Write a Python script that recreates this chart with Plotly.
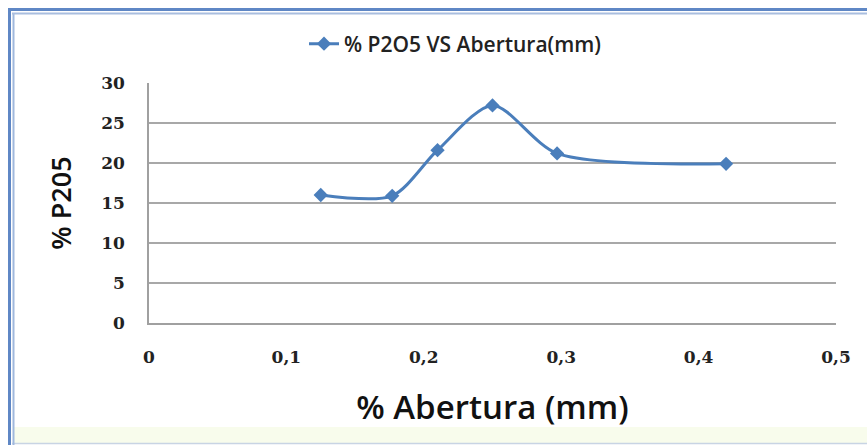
import plotly.graph_objects as go

# Data
abertura = [0.125, 0.177, 0.21, 0.25, 0.297, 0.42]
p2o5 = [16.0, 15.9, 21.6, 27.2, 21.2, 19.9]
series_name = "% P2O5 VS Abertura(mm)"
x_title = "% Abertura (mm)"
y_title = "% P205"

W, H = 867, 445
L, R, T, B = 149, 31, 83, 122
pw = W - L - R
ph = H - T - B

def px(xp):
    return (xp - L) / pw

def py(yp):
    return (H - B - yp) / ph

blue = "#4a7ebb"

fig = go.Figure()
fig.add_trace(go.Scatter(
    x=abertura, y=p2o5, mode="lines+markers", name=series_name,
    line=dict(color=blue, width=3, shape="spline", smoothing=0.8),
    marker=dict(symbol="diamond", size=11, color=blue),
))

shapes = [
    dict(type="rect", xref="paper", yref="paper", x0=px(14), x1=px(W + 5), y0=py(443), y1=py(427),
         fillcolor="#f8fcec", line=dict(width=0), layer="below"),
    dict(type="line", xref="paper", yref="paper", x0=px(12), x1=px(W + 5), y0=py(443.5), y1=py(443.5),
         line=dict(color="#c8d4e4", width=1.5)),
    dict(type="line", xref="paper", yref="paper", x0=px(9.5), x1=px(9.5), y0=py(9), y1=py(H + 5),
         line=dict(color="#5f87c5", width=3)),
    dict(type="line", xref="paper", yref="paper", x0=px(13.5), x1=px(13.5), y0=py(13), y1=py(H + 5),
         line=dict(color="#9fb8dd", width=2)),
    dict(type="line", xref="paper", yref="paper", x0=px(8), x1=px(W + 5), y0=py(9.5), y1=py(9.5),
         line=dict(color="#5f87c5", width=3)),
    dict(type="line", xref="paper", yref="paper", x0=px(12), x1=px(W + 5), y0=py(13.5), y1=py(13.5),
         line=dict(color="#a9bedf", width=2)),
]

title_font = "Open Sans, Noto Sans, sans-serif"

fig.update_layout(
    width=W, height=H,
    margin=dict(l=L, r=R, t=T, b=B, autoexpand=False),
    paper_bgcolor="white", plot_bgcolor="white",
    separators=",.",
    showlegend=True,
    legend=dict(x=304 / W, y=1 - 44 / H, xref="container", yref="container",
                xanchor="left", yanchor="middle", orientation="h",
                font=dict(family=title_font, size=21, color="#222", weight=600),
                bgcolor="rgba(0,0,0,0)"),
    xaxis=dict(range=[0, 0.5], dtick=0.1, tick0=0, showgrid=False, zeroline=False,
               showline=True, linecolor="#a0a0a0", linewidth=1.5, automargin=False,
               ticks="", ticklabelstandoff=18,
               tickfont=dict(family="DejaVu Serif, serif", size=17, color="#222", weight="bold"),
               title=dict(text=x_title, standoff=30,
                          font=dict(family=title_font, size=33, color="#111", weight=600))),
    yaxis=dict(range=[0, 30], dtick=5, showgrid=True, gridcolor="#a8a8a8", gridwidth=1.5,
               zeroline=False, showline=True, linecolor="#a0a0a0", linewidth=1.5, automargin=False,
               ticks="", ticklabelstandoff=19,
               tickfont=dict(family="DejaVu Serif, serif", size=17, color="#222", weight="bold"),
               title=dict(text=y_title, standoff=22,
                          font=dict(family=title_font, size=27, color="#111", weight=600))),
    shapes=shapes,
)

fig.write_html("out.html")
